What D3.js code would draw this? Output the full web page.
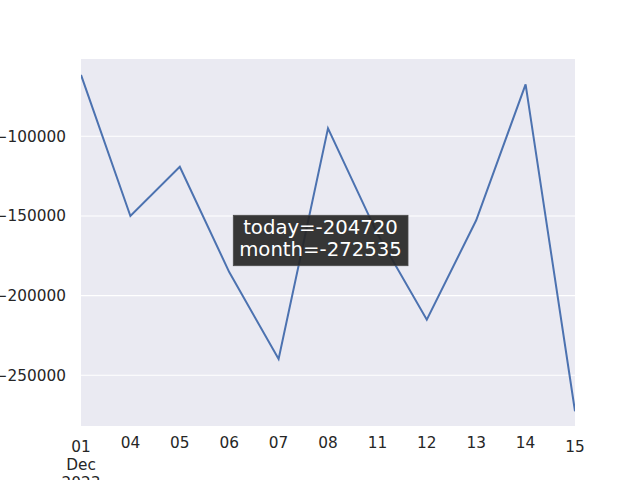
<!DOCTYPE html>
<html><head><meta charset="utf-8">
<script src="https://cdn.jsdelivr.net/npm/d3@7"></script>
<style>body{margin:0;background:#fff;}svg{display:block;font-family:"DejaVu Sans",sans-serif;}</style>
</head><body>
<svg id="c" width="640" height="480"></svg>
<script>
const categories = ["01","04","05","06","07","08","11","12","13","14","15"];
const values = [-61500,-150000,-119100,-185200,-239800,-95000,-161200,-215100,-152700,-67400,-272535];
const yTicks = [-250000,-200000,-150000,-100000];
const majorLabels = {"01":["01","Dec","2023"],"15":["15"]};
const annotationLines = ["today=-204720","month=-272535"];

const svg = d3.select("#c");
const L=81,R=575,T=59,B=426;
const x = d3.scalePoint().domain(categories).range([L,R]);
const y = d3.scaleLinear().domain([-281800,-51500]).range([B,T]);

svg.append("rect").attr("x",L).attr("y",T).attr("width",R-L).attr("height",B-T).attr("fill","#eaeaf2");
svg.append("clipPath").attr("id","clip").append("rect").attr("x",L).attr("y",T).attr("width",R-L).attr("height",B-T);

svg.append("g").selectAll("line").data(yTicks).join("line")
  .attr("x1",L).attr("x2",R).attr("y1",d=>y(d)).attr("y2",d=>y(d))
  .attr("stroke","#fff").attr("stroke-width",1.1);

const fmt = d => (d<0?"\u2212":"")+Math.abs(d);
svg.append("g").selectAll("text").data(yTicks).join("text")
  .attr("x",66).attr("y",d=>y(d)).attr("dy","0.36em").attr("text-anchor","end")
  .attr("font-size",15.3).attr("fill","#262626").text(fmt);

const line = d3.line().x((d,i)=>x(categories[i])).y(d=>y(d));
svg.append("path").datum(values).attr("d",line).attr("fill","none")
  .attr("stroke","#4c72b0").attr("stroke-width",2).attr("clip-path","url(#clip)");

const xg = svg.append("g");
categories.forEach(c=>{
  const lab = majorLabels[c];
  if(lab){
    lab.forEach((t,j)=>{
      xg.append("text").attr("x",x(c)).attr("y",452+j*18).attr("text-anchor","middle")
        .attr("font-size",15.3).attr("fill","#262626").text(t);
    });
  } else {
    xg.append("text").attr("x",x(c)).attr("y",448.3).attr("text-anchor","middle")
      .attr("font-size",15.3).attr("fill","#262626").text(c);
  }
});

const ag = svg.append("g");
ag.append("rect").attr("x",233.3).attr("y",215.3).attr("width",174.7).attr("height",50.4)
  .attr("fill","#262626").attr("fill-opacity",0.92).attr("stroke","#4a4a4a").attr("stroke-width",0.8);
annotationLines.forEach((t,i)=>{
  ag.append("text").attr("x",320.5).attr("y",234.3+i*21.4).attr("text-anchor","middle")
    .attr("font-size",19.7).attr("fill","#fff").text(t);
});
</script>
</body></html>
